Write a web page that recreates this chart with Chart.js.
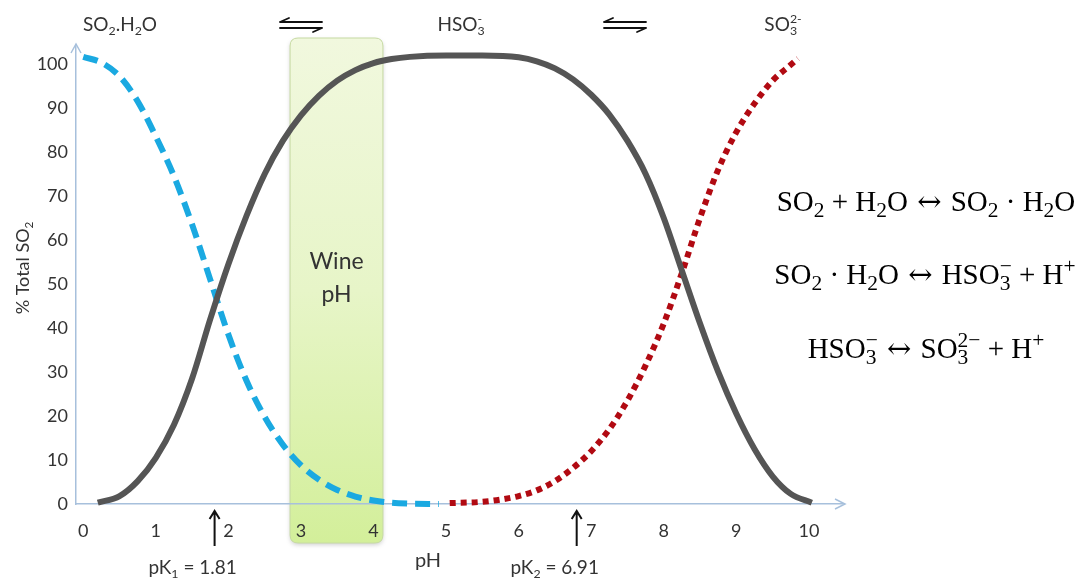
<!DOCTYPE html>
<html><head><meta charset="utf-8">
<script src="https://cdn.jsdelivr.net/npm/chart.js@4.4.0/dist/chart.umd.min.js"></script>
<style>html,body{margin:0;padding:0;background:#fff;} #wrap{width:1083px;height:580px;}</style>
</head><body><div id="wrap"><canvas id="c" width="1083" height="580"></canvas></div>
<script>
// ---- data ----
const bluePH  = [0, 0.25, 0.5, 0.75, 1.0, 1.25, 1.5, 1.75, 2.0, 2.25, 2.5, 2.75, 3.0, 3.25, 3.5, 3.75, 4.0, 4.25, 4.5, 4.9];
const blueVal = [101.6, 100.3, 97.2, 91.5, 83.5, 74.5, 63.5, 51, 38.5, 28, 19.8, 13.5, 8.8, 5.5, 3.2, 1.7, 0.8, 0.3, 0.1, 0];
const blackPH  = [0.2, 0.5, 0.75, 1.0, 1.25, 1.5, 1.75, 2.0, 2.25, 2.5, 2.75, 3.0, 3.25, 3.5, 3.75, 4.0, 4.25, 4.5, 5.0, 5.5, 6.0, 6.25, 6.5, 6.75, 7.0, 7.25, 7.5, 7.75, 8.0, 8.25, 8.5, 8.75, 9.0, 9.25, 9.5, 9.75, 10.04];
const blackVal = [0.3, 1.8, 5.2, 10.5, 18, 28.5, 42, 54.5, 65.5, 75, 82.5, 88.3, 92.8, 96.2, 98.6, 100.2, 101.1, 101.6, 101.9, 101.9, 101.5, 100.6, 99, 96.5, 93, 88.5, 82.5, 75, 65, 53, 41, 30, 20.5, 12.5, 6.3, 2.3, 0.3];
const redPH  = [5.05, 5.5, 5.75, 6.0, 6.25, 6.5, 6.75, 7.0, 7.25, 7.5, 7.75, 8.0, 8.25, 8.5, 8.75, 9.0, 9.25, 9.5, 9.75, 9.85];
const redVal = [0.2, 0.5, 1.0, 1.8, 3.1, 5.2, 8.2, 12, 17, 23.5, 31.5, 41, 52.5, 65, 76, 84.5, 91, 96.2, 99.8, 101.2];
const xTickValues = [0, 1, 2, 3, 4, 5, 6, 7, 8, 9, 10];
const yTickValues = [0, 10, 20, 30, 40, 50, 60, 70, 80, 90, 100];
const wineRange = [2.85, 4.13];
const pKArrowPH = [1.81, 6.80];
const pKLabels = [['pK', {sub:'1'}, ' = 1.81'], ['pK', {sub:'2'}, ' = 6.91']];

const SANS = 'Lato, "Open Sans", sans-serif';
const SERIF = '"Liberation Serif", "DejaVu Serif", serif';
const ARROWFONT = '"DejaVu Serif", serif';
const AXIS_COLOR = '#a7c0dc';
const TEXT = '#333333';

function pts(xs, ys) { return xs.map((x, i) => ({x: x, y: ys[i]})); }

function partWidth(ctx, p, o) {
  if (typeof p === 'string') { ctx.font = o.weight + ' ' + o.size + 'px ' + o.family; return ctx.measureText(p).width; }
  if (p.t) { ctx.font = o.weight + ' ' + o.size + 'px ' + p.f; return ctx.measureText(p.t).width; }
  ctx.font = o.weight + ' ' + (o.size * o.subScale) + 'px ' + o.family;
  return Math.max(p.sub ? ctx.measureText(p.sub).width : 0, p.sup ? ctx.measureText(p.sup).width : 0);
}
function drawRich(ctx, parts, x, y, opt) {
  const o = Object.assign({size: 16, family: SANS, weight: 'normal', color: TEXT, align: 'center', subScale: 0.65, subDy: 0.22, supDy: 0.4}, opt);
  let total = 0; parts.forEach(p => total += partWidth(ctx, p, o));
  let cx = o.align === 'center' ? x - total / 2 : (o.align === 'right' ? x - total : x);
  ctx.fillStyle = o.color; ctx.textBaseline = 'alphabetic'; ctx.textAlign = 'left';
  parts.forEach(p => {
    const w = partWidth(ctx, p, o);
    if (typeof p === 'string') { ctx.font = o.weight + ' ' + o.size + 'px ' + o.family; ctx.fillText(p, cx, y); }
    else if (p.t) { ctx.font = o.weight + ' ' + o.size + 'px ' + p.f; ctx.fillText(p.t, cx, y); }
    else {
      ctx.font = o.weight + ' ' + (o.size * o.subScale) + 'px ' + o.family;
      if (p.sub) ctx.fillText(p.sub, cx, y + o.size * o.subDy);
      if (p.sup) ctx.fillText(p.sup, cx, y - o.size * o.supDy);
    }
    cx += w;
  });
}
function harpoons(ctx, x1, x2, y) {
  ctx.save(); ctx.strokeStyle = '#111'; ctx.lineWidth = 1.8; ctx.lineCap = 'round';
  ctx.beginPath();
  ctx.moveTo(x1, y - 3); ctx.lineTo(x2, y - 3); ctx.moveTo(x1, y - 3); ctx.lineTo(x1 + 9, y - 7);
  ctx.moveTo(x1, y + 3); ctx.lineTo(x2, y + 3); ctx.moveTo(x2, y + 3); ctx.lineTo(x2 - 9, y + 7);
  ctx.stroke(); ctx.restore();
}
function roundRect(ctx, x, y, w, h, r) {
  ctx.beginPath();
  ctx.moveTo(x + r, y); ctx.lineTo(x + w - r, y); ctx.quadraticCurveTo(x + w, y, x + w, y + r);
  ctx.lineTo(x + w, y + h - r); ctx.quadraticCurveTo(x + w, y + h, x + w - r, y + h);
  ctx.lineTo(x + r, y + h); ctx.quadraticCurveTo(x, y + h, x, y + h - r);
  ctx.lineTo(x, y + r); ctx.quadraticCurveTo(x, y, x + r, y); ctx.closePath();
}

const decor = {
  id: 'decor',
  beforeDraw(chart) {
    const ctx = chart.ctx, xs = chart.scales.x, a = chart.chartArea;
    const x1 = xs.getPixelForValue(wineRange[0]), x2 = xs.getPixelForValue(wineRange[1]);
    const top = a.top - 7, bot = a.bottom + 39;
    ctx.save();
    ctx.shadowColor = 'rgba(0,0,0,0.18)'; ctx.shadowBlur = 4; ctx.shadowOffsetY = 2;
    const g = ctx.createLinearGradient(0, top, 0, bot);
    g.addColorStop(0, '#f1f8de'); g.addColorStop(0.5, '#e7f5c8'); g.addColorStop(1, '#d3ef9a');
    roundRect(ctx, x1, top, x2 - x1, bot - top, 8);
    ctx.fillStyle = g; ctx.fill();
    ctx.shadowColor = 'transparent';
    ctx.strokeStyle = '#c6daa2'; ctx.lineWidth = 1; ctx.stroke();
    const cx = (x1 + x2) / 2;
    ctx.fillStyle = TEXT; ctx.font = '23px ' + SANS; ctx.textAlign = 'center'; ctx.textBaseline = 'middle';
    ctx.fillText('Wine', cx, 262); ctx.fillText('pH', cx, 295);
    ctx.restore();
  },
  afterDraw(chart) {
    const ctx = chart.ctx, xs = chart.scales.x, a = chart.chartArea;
    ctx.save();
    // axis arrow heads
    ctx.strokeStyle = AXIS_COLOR; ctx.lineWidth = 1.5;
    ctx.beginPath();
    ctx.moveTo(a.left - 5, a.top + 8); ctx.lineTo(a.left, a.top - 1); ctx.lineTo(a.left + 5, a.top + 8);
    ctx.moveTo(a.right - 8, a.bottom - 5); ctx.lineTo(a.right + 2, a.bottom); ctx.lineTo(a.right - 8, a.bottom + 5);
    ctx.stroke();
    // species labels on top
    drawRich(ctx, ['SO', {sub:'2'}, '.H', {sub:'2'}, 'O'], 120, 31, {size: 19});
    drawRich(ctx, ['HSO', {sub:'3', sup:'-'}], 461, 31, {size: 19});
    drawRich(ctx, ['SO', {sub:'3', sup:'2-'}], 783, 31, {size: 19});
    harpoons(ctx, 280, 322, 25);
    harpoons(ctx, 604, 646, 25);
    // pK arrows and labels
    pKArrowPH.forEach((v, i) => {
      const px = xs.getPixelForValue(v);
      ctx.strokeStyle = '#111'; ctx.lineWidth = 2;
      ctx.beginPath(); ctx.moveTo(px, a.bottom + 42); ctx.lineTo(px, a.bottom + 7);
      ctx.moveTo(px - 5, a.bottom + 15); ctx.lineTo(px, a.bottom + 7); ctx.lineTo(px + 5, a.bottom + 15);
      ctx.stroke();
      drawRich(ctx, pKLabels[i], px - 22, 574, {size: 19});
    });
    // x title
    ctx.fillStyle = TEXT; ctx.font = '20px ' + SANS; ctx.textAlign = 'center'; ctx.textBaseline = 'middle';
    ctx.fillText('pH', 428, 561);
    // y title
    ctx.save(); ctx.translate(29, 268); ctx.rotate(-Math.PI / 2);
    drawRich(ctx, ['% Total SO', {sub:'2'}], 0, 0, {size: 18});
    ctx.restore();
    // equations
    const eo = {size: 29, family: SERIF, color: '#000', subScale: 0.74, subDy: 0.22, supDy: 0.38};
    const arr = {t: ' \u2194 ', f: ARROWFONT};
    drawRich(ctx, ['SO', {sub:'2'}, ' + H', {sub:'2'}, 'O', arr, 'SO', {sub:'2'}, ' \u00b7 H', {sub:'2'}, 'O'], 926, 211, eo);
    drawRich(ctx, ['SO', {sub:'2'}, ' \u00b7 H', {sub:'2'}, 'O', arr, 'HSO', {sub:'3', sup:'\u2212'}, ' + H', {sup:'+'}], 925, 284, eo);
    drawRich(ctx, ['HSO', {sub:'3', sup:'\u2212'}, arr, 'SO', {sub:'3', sup:'2\u2212'}, ' + H', {sup:'+'}], 926, 358, eo);
    ctx.restore();
  }
};

const lineBase = {pointRadius: 0, borderWidth: 6, borderCapStyle: 'butt', cubicInterpolationMode: 'monotone', clip: false, fill: false};

new Chart(document.getElementById('c'), {
  type: 'line',
  data: {
    datasets: [
      Object.assign({label: 'HSO3-', data: pts(blackPH, blackVal), borderColor: '#555555'}, lineBase),
      Object.assign({label: 'SO2.H2O', data: pts(bluePH, blueVal), borderColor: '#1aa9e1', borderDash: [15, 8]}, lineBase),
      Object.assign({label: 'SO3 2-', data: pts(redPH, redVal), borderColor: '#b10a12', borderDash: [6, 5]}, lineBase)
    ]
  },
  options: {
    responsive: false, animation: false, devicePixelRatio: 1,
    layout: {padding: {left: 0, right: 240, top: 45, bottom: 0}},
    plugins: {legend: {display: false}, tooltip: {enabled: false}},
    scales: {
      x: {
        type: 'linear', min: -0.1, max: 10.47,
        afterBuildTicks: s => { s.ticks = xTickValues.map(v => ({value: v})); },
        afterFit: s => { s.height = 76; },
        ticks: {font: {family: SANS, size: 18}, color: TEXT, padding: 16, maxRotation: 0, autoSkip: false, callback: v => String(v)},
        grid: {display: false, drawTicks: false},
        border: {color: AXIS_COLOR, width: 1.5}
      },
      y: {
        type: 'linear', min: 0, max: 104.3,
        afterBuildTicks: s => { s.ticks = yTickValues.map(v => ({value: v})); },
        afterFit: s => { s.width = 76; },
        ticks: {font: {family: SANS, size: 18}, color: TEXT, padding: 8, callback: v => String(v)},
        grid: {display: false, drawTicks: false},
        border: {color: AXIS_COLOR, width: 1.5}
      }
    }
  },
  plugins: [decor]
});
</script></body></html>
